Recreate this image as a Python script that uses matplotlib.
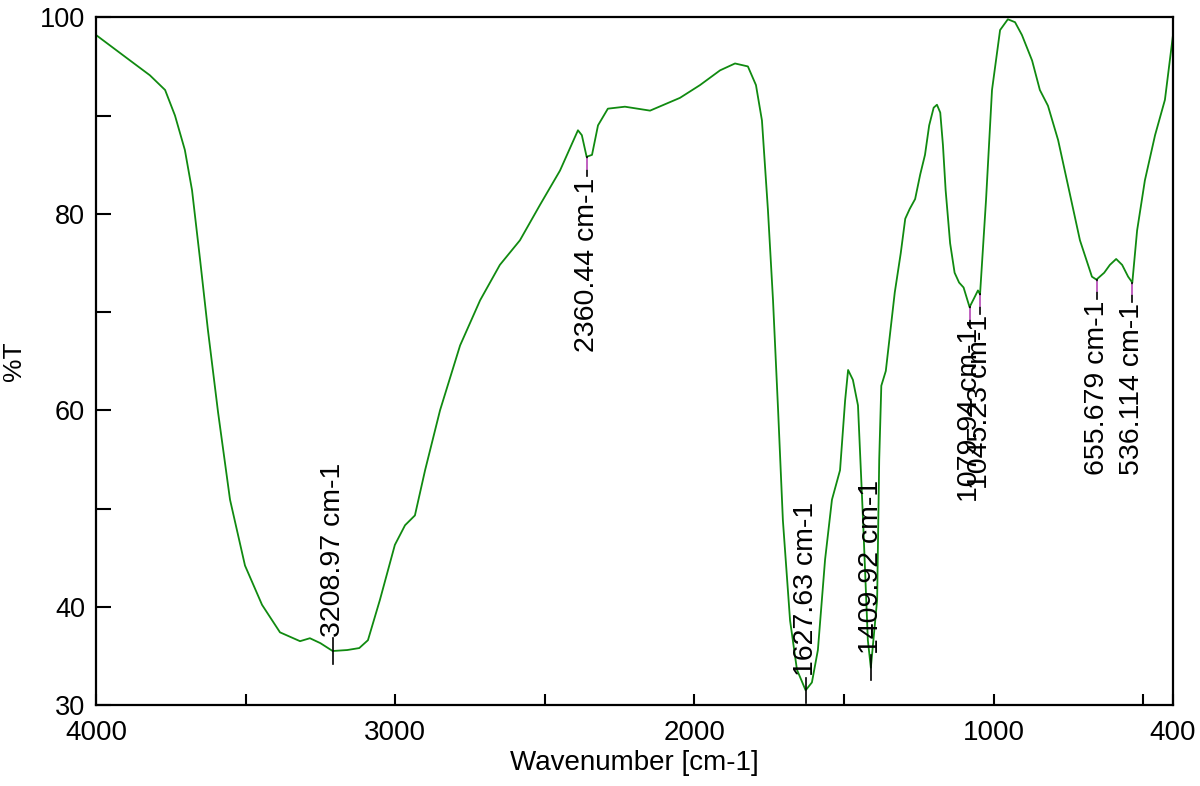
import numpy as np
import matplotlib
matplotlib.use('Agg')
import matplotlib.pyplot as plt

plt.rcParams['font.family'] = ['Liberation Sans', 'DejaVu Sans']

# spectrum (wavenumber cm-1, %T)
wn = [4000, 3886, 3820, 3769, 3736, 3703, 3679, 3652, 3626, 3592, 3552, 3502,
      3445, 3385, 3318, 3285, 3250, 3209, 3160, 3120, 3091, 3051, 3001, 2967,
      2934, 2900, 2850, 2783, 2716, 2650, 2583, 2516, 2449, 2389, 2376, 2360,
      2342, 2322, 2289, 2232, 2148, 2048, 1981, 1914, 1864, 1821, 1794, 1774,
      1754, 1737, 1720, 1704, 1680, 1657, 1628, 1607, 1587, 1563, 1540, 1513,
      1496, 1486, 1470, 1453, 1436, 1420, 1410, 1389, 1382, 1375, 1360, 1345,
      1330, 1310, 1295, 1280, 1262, 1245, 1229, 1215, 1200, 1189, 1178, 1169,
      1160, 1145, 1130, 1115, 1100, 1080, 1065, 1052, 1045, 1025, 1005, 978,
      952, 928, 905, 871, 845, 818, 784, 751, 711, 671, 656, 630, 611, 590,
      570, 550, 536, 520, 494, 460, 427, 400]
T = [98.2, 95.6, 94.1, 92.6, 90.0, 86.5, 82.4, 75.3, 68.2, 59.8, 50.9, 44.2,
     40.2, 37.4, 36.5, 36.8, 36.3, 35.5, 35.6, 35.8, 36.6, 40.7, 46.3, 48.3,
     49.3, 53.9, 60.0, 66.6, 71.2, 74.8, 77.3, 80.9, 84.4, 88.5, 88.0, 85.8,
     86.0, 89.0, 90.7, 90.9, 90.5, 91.8, 93.1, 94.6, 95.3, 95.0, 93.1, 89.5,
     80.4, 71.2, 60.0, 48.8, 38.6, 33.6, 31.5, 32.3, 35.6, 44.8, 50.9, 53.9,
     61.0, 64.1, 63.1, 60.5, 48.8, 36.6, 33.8, 40.7, 55.0, 62.5, 64.0, 68.0,
     72.0, 76.0, 79.5, 80.5, 81.5, 84.0, 86.0, 89.0, 90.8, 91.1, 90.3, 87.0,
     82.4, 77.0, 74.0, 73.0, 72.5, 70.5, 71.4, 72.2, 71.8, 81.4, 92.6, 98.7,
     99.8, 99.5, 98.2, 95.6, 92.6, 91.0, 87.5, 82.9, 77.3, 73.6, 73.3, 74.0,
     74.8, 75.4, 74.8, 73.6, 73.0, 78.3, 83.4, 88.0, 91.6, 98.2]

# labelled peaks
peak_wn = [3208.97, 2360.44, 1627.63, 1409.92, 1079.94, 1045.23, 655.679, 536.114]
peak_T = [35.5, 85.8, 31.5, 33.8, 70.5, 71.8, 73.3, 73.0]
peak_text = ['3208.97 cm-1', '2360.44 cm-1', '1627.63 cm-1', '1409.92 cm-1',
             '1079.94 cm-1', '1045.23 cm-1', '655.679 cm-1', '536.114 cm-1']
label_up = [True, False, True, True, False, False, False, False]

xticks = [4000, 3000, 2000, 1000, 400]
xticklabels = ['4000', '3000', '2000', '1000', '400']
yticks = [30, 40, 50, 60, 70, 80, 90, 100]
yticklabels = ['30', '40', '', '60', '', '80', '', '100']

fig = plt.figure(figsize=(12, 7.86), dpi=100)
ax = fig.add_axes([0.08, 0.103, 0.8975, 0.875])

ax.plot(wn, T, color='#108a10', lw=1.3)

for w, t, s, up in zip(peak_wn, peak_T, peak_text, label_up):
    if up:
        ax.plot([w, w], [t - 1.3, t + 1.3], color='black', lw=1.2)
        ax.annotate(s, xy=(w, t), xytext=(0, 10), textcoords='offset points',
                    rotation=90, ha='center', va='bottom', fontsize=20.5)
    else:
        ax.plot([w, w], [t, t - 2.0], color='black', lw=1.2)
        ax.plot([w, w], [t - 0.2, t - 1.2], color='#e070e0', lw=1.2)
        ax.annotate(s, xy=(w, t), xytext=(0, -15), textcoords='offset points',
                    rotation=90, ha='center', va='top', fontsize=20.5)

ax.set_xlim(4000, 400)
ax.set_ylim(30, 100)
ax.set_xticks(xticks)
ax.set_xticklabels(xticklabels)
ax.set_xticks([3500, 2500, 1500, 500], minor=True)
ax.set_yticks(yticks)
ax.set_yticklabels(yticklabels)

ax.tick_params(axis='x', which='both', direction='in', length=8, width=1.5,
               labelsize=20, pad=11)
ax.tick_params(axis='y', direction='in', length=11, width=1.5,
               labelsize=19.5, pad=8)
for sp in ax.spines.values():
    sp.set_linewidth(1.6)

ax.set_xlabel('Wavenumber [cm-1]', fontsize=20, labelpad=3)
ax.set_ylabel('%T', fontsize=19, labelpad=10)

fig.savefig('out.png', dpi=100)
